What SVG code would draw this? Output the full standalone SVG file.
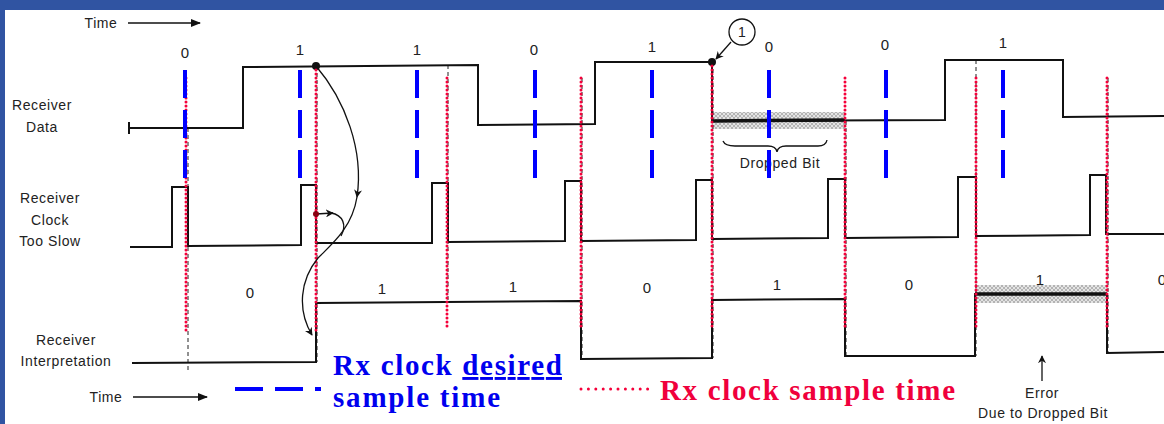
<svg xmlns="http://www.w3.org/2000/svg" width="1164" height="424" viewBox="0 0 1164 424">
<defs>
<style>
.lbl{font-family:"Liberation Sans",Arial,sans-serif;font-size:14px;fill:#222;letter-spacing:0.6px;text-anchor:middle}
.bit{font-family:"Liberation Sans",Arial,sans-serif;font-size:15px;fill:#222;text-anchor:middle}
.wave{fill:none;stroke:#111;stroke-width:2;stroke-linejoin:miter}
.thick{fill:none;stroke:#111;stroke-width:3.5}
.blue{fill:none;stroke:#0000FF;stroke-width:4;stroke-dasharray:28 12}
.red{fill:none;stroke:#F5003A;stroke-width:3;stroke-linecap:round;stroke-dasharray:0 4}
.bdash{fill:none;stroke:#222;stroke-width:1;stroke-dasharray:4 3}
.conn{fill:none;stroke:#111;stroke-width:1.3}
.leg{font-family:"Liberation Serif","Times New Roman",serif;font-weight:bold;font-size:29px}
</style>
<marker id="ah" viewBox="0 0 10 10" refX="9" refY="5" markerWidth="8" markerHeight="8" markerUnits="userSpaceOnUse" orient="auto">
<path d="M0,0 L10,5 L0,10 L3,5 Z" fill="#111"/>
</marker>
<marker id="ahb" viewBox="0 0 10 10" refX="9" refY="5" markerWidth="12" markerHeight="10" markerUnits="userSpaceOnUse" orient="auto">
<path d="M0,1 L10,5 L0,9 Z" fill="#111"/>
</marker>
<pattern id="hatch" width="4" height="4" patternUnits="userSpaceOnUse">
<rect width="4" height="4" fill="#e4e4e4"/>
<path d="M0,0 L4,4 M4,0 L0,4" stroke="#a8a8a8" stroke-width="0.8"/>
</pattern>
</defs>
<rect width="1164" height="424" fill="#fff"/>
<rect x="0" y="0" width="1164" height="10" fill="#3054A2"/>
<rect x="0" y="0" width="5" height="424" fill="#3054A2"/>

<g id="time-top">
<text class="lbl" x="101" y="28">Time</text>
<line class="conn" x1="128" y1="23" x2="200" y2="23" marker-end="url(#ahb)"/>
</g>

<g id="labels">
<text class="lbl" x="42" y="110">Receiver</text>
<text class="lbl" x="42" y="132">Data</text>
<text class="lbl" x="50" y="203">Receiver</text>
<text class="lbl" x="50" y="225">Clock</text>
<text class="lbl" x="50" y="246">Too Slow</text>
<text class="lbl" x="66" y="345">Receiver</text>
<text class="lbl" x="66" y="366">Interpretation</text>
</g>

<g id="hatching">
<rect x="712" y="112" width="133" height="17" fill="url(#hatch)"/>
<rect x="975" y="285" width="132" height="18" fill="url(#hatch)"/>
</g>

<g id="guides">
<line class="bdash" x1="188" y1="128" x2="188" y2="370"/>
<line class="bdash" x1="317" y1="66" x2="317" y2="362"/>
<line class="bdash" x1="448" y1="65" x2="448" y2="303"/>
<line class="bdash" x1="582" y1="78" x2="582" y2="359"/>
<line class="bdash" x1="713" y1="62" x2="713" y2="358"/>
<line class="bdash" x1="846" y1="121" x2="846" y2="356"/>
<line class="bdash" x1="976" y1="60" x2="976" y2="356"/>
<line class="bdash" x1="1108" y1="78" x2="1108" y2="353"/>
</g>

<g id="receiver-data">
<line class="wave" x1="129" y1="122" x2="129" y2="134"/>
<path class="wave" d="M129,128 L243,128 L243,67 L478,65 L478,125 L595,124 L595,62 L712,62 L712,121 L945,120 L945,60 L1063,60 L1063,117 L1164,116"/>
<line class="thick" x1="712" y1="121" x2="845" y2="120"/>
<circle cx="316" cy="66" r="4" fill="#111"/>
<circle cx="712" cy="62" r="4" fill="#111"/>
</g>

<g id="receiver-clock">
<path class="wave" d="M130,247 L172,247 L172,187 L188,187 L188,246 L301,245 L301,185 L316,185 L316,243 L432,243 L432,183 L448,183 L448,242 L565,241 L565,181 L581,181 L581,241 L696,240 L696,180 L712,180 L712,239 L828,238 L828,179 L845,179 L845,238 L958,237 L958,177 L976,177 L976,236 L1090,235 L1090,175 L1106,175 L1106,234 L1164,234"/>
</g>

<g id="receiver-interpretation">
<path class="wave" d="M132,363 L316,362 L316,303 L581,301 L581,359 L712,358 L712,300 L845,299 L845,356 L975,356 L975,294 L1107,294 L1107,353 L1164,352"/>
<line class="thick" x1="975" y1="294" x2="1107" y2="294"/>
</g>

<g id="bits">
<text class="bit" x="185" y="58">0</text>
<text class="bit" x="300" y="55">1</text>
<text class="bit" x="417" y="55">1</text>
<text class="bit" x="534" y="55">0</text>
<text class="bit" x="652" y="52">1</text>
<text class="bit" x="769" y="52">0</text>
<text class="bit" x="885" y="50">0</text>
<text class="bit" x="1003" y="48">1</text>
<text class="bit" x="250" y="298">0</text>
<text class="bit" x="382" y="294">1</text>
<text class="bit" x="513" y="292">1</text>
<text class="bit" x="647" y="293">0</text>
<text class="bit" x="777" y="290">1</text>
<text class="bit" x="909" y="290">0</text>
<text class="bit" x="1040" y="285">1</text>
<text class="bit" x="1162" y="285">0</text>
</g>

<g id="dropped-bit">
<path class="conn" d="M723,141 Q725,146 735,146 L768,146 Q776,146 777,152 Q778,146 786,146 L818,146 Q826,146 827,140"/>
<text class="lbl" x="780" y="168">Dropped Bit</text>
</g>

<g id="red-samples">
<line class="red" x1="186" y1="78" x2="186" y2="332"/>
<line class="red" x1="316" y1="70" x2="316" y2="333"/>
<line class="red" x1="447" y1="78" x2="447" y2="330"/>
<line class="red" x1="581" y1="78" x2="581" y2="330"/>
<line class="red" x1="712" y1="66" x2="712" y2="330"/>
<line class="red" x1="845" y1="78" x2="845" y2="330"/>
<line class="red" x1="976" y1="78" x2="976" y2="330"/>
<line class="red" x1="1107" y1="78" x2="1107" y2="330"/>
</g>

<g id="blue-samples">
<line class="blue" x1="185" y1="70" x2="185" y2="178"/>
<line class="blue" x1="300" y1="70" x2="300" y2="178"/>
<line class="blue" x1="417" y1="70" x2="417" y2="178"/>
<line class="blue" x1="535" y1="70" x2="535" y2="178"/>
<line class="blue" x1="652" y1="70" x2="652" y2="178"/>
<line class="blue" x1="769" y1="70" x2="769" y2="178"/>
<line class="blue" x1="886" y1="70" x2="886" y2="178"/>
<line class="blue" x1="1003" y1="70" x2="1003" y2="178"/>
</g>

<g id="connectors">
<path class="conn" d="M316,66 C345,100 364,150 357,197" marker-end="url(#ah)"/>
<path class="conn" d="M357,197 C352,228 332,244 318,258 C300,280 297,310 312,335" marker-end="url(#ah)"/>
<path class="conn" d="M316,214 L333,213" marker-end="url(#ah)"/>
<path class="conn" d="M331,213 C343,215 347,225 341,236"/>
<circle cx="316" cy="214" r="3" fill="#8a0010"/>
<path class="conn" d="M731,42 L716,59" marker-end="url(#ah)"/>
<line class="conn" x1="1042" y1="381" x2="1042" y2="356" marker-end="url(#ah)"/>
</g>

<g id="marker-1">
<circle cx="742" cy="32" r="13" fill="#fff" stroke="#111" stroke-width="1.3"/>
<text class="bit" x="742" y="37" style="font-size:14px">1</text>
</g>

<g id="error-note">
<text class="lbl" x="1042" y="398">Error</text>
<text class="lbl" x="1043" y="418">Due to Dropped Bit</text>
</g>

<g id="time-bottom">
<text class="lbl" x="106" y="402">Time</text>
<line class="conn" x1="133" y1="397" x2="207" y2="397" marker-end="url(#ahb)"/>
</g>

<g id="legend">
<line class="blue" x1="235" y1="389" x2="321" y2="389"/>
<text class="leg" x="333" y="375" fill="#0000EE" textLength="229">Rx clock <tspan text-decoration="underline">desired</tspan></text>
<text class="leg" x="333" y="407" fill="#0000EE" textLength="167">sample time</text>
<line x1="581" y1="389" x2="648" y2="389" stroke="#F5003A" stroke-width="3" stroke-linecap="round" stroke-dasharray="0 7.4"/>
<text class="leg" x="660" y="400" fill="#F0003C" textLength="295">Rx clock sample time</text>
</g>
</svg>
